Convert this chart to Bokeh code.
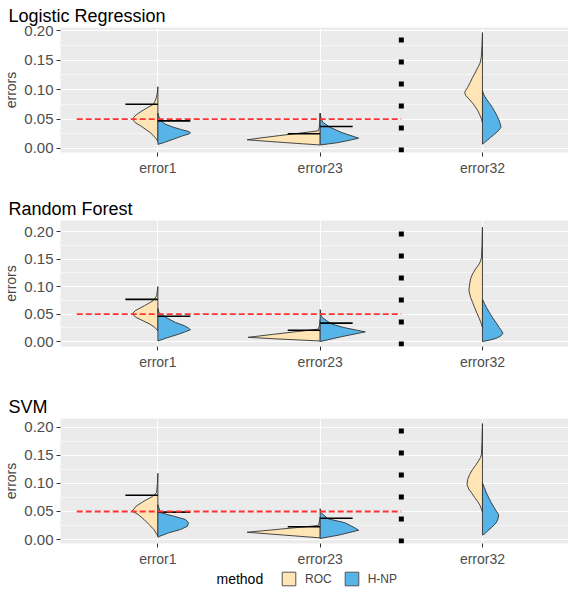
import numpy as np
from bokeh.plotting import figure
from bokeh.layouts import column
from bokeh.models import (FixedTicker, NumeralTickFormatter, Range1d,
                          Legend, LegendItem, Label)
from bokeh.embed import file_html
from bokeh.resources import INLINE

# ---------------- data ----------------
CATEGORIES = ["error1", "error23", "error32"]
METHODS = ["ROC", "H-NP"]
LEGEND_TITLE = "method"
Y_LABEL = "errors"
PANELS = ["Logistic Regression", "Random Forest", "SVM"]
Y_TICKS = [0.00, 0.05, 0.10, 0.15, 0.20]
ALPHA_LEVEL = 0.05          # target level (red dashed line)
SEPARATOR_AT = 2.5          # dotted separator between error23 and error32
Y_LIMITS = [(-0.0068, 0.2056), (-0.009, 0.220), (-0.007, 0.2155)]

# violin density profiles: (error value, density) from top to bottom
LR_E1_ROC = [(0.105, 0), (0.095, 0.5), (0.087, 1.5), (0.080, 3), (0.075, 4.5), (0.070, 10), (0.063, 17),
             (0.057, 22), (0.053, 24.5), (0.050, 25), (0.047, 24.5), (0.044, 23), (0.038, 17), (0.032, 12),
             (0.026, 7), (0.021, 4), (0.016, 1.5), (0.012, 0)]
LR_E1_HNP = [(0.060, 0), (0.054, 1), (0.048, 3), (0.044, 5), (0.041, 8), (0.036, 16), (0.032, 24),
             (0.029, 31), (0.027, 33), (0.025, 32), (0.0215, 25), (0.016, 16), (0.010, 6), (0.007, 0)]
LR_E23_ROC = [(0.060, 0), (0.045, 0.5), (0.035, 1), (0.030, 2), (0.026, 21), (0.022, 41), (0.018, 60),
              (0.0148, 74), (0.012, 52), (0.010, 35), (0.008, 18), (0.006, 0)]
LR_E23_HNP = [(0.060, 0), (0.050, 1), (0.044, 3), (0.036, 10), (0.027, 22), (0.0215, 32), (0.0175, 39),
              (0.013, 27), (0.0097, 17), (0.006, 0)]
LR_E32_ROC = [(0.197, 0), (0.175, 0.5), (0.155, 1.2), (0.145, 2.5), (0.1376, 4.7), (0.130, 7), (0.121, 10),
              (0.112, 12.5), (0.104, 15), (0.099, 17), (0.095, 18), (0.090, 17), (0.084, 13.5),
              (0.078, 10.5), (0.0725, 8), (0.065, 5), (0.058, 3), (0.050, 1), (0.044, 0)]
LR_E32_HNP = [(0.098, 0), (0.091, 1.5), (0.084, 4), (0.077, 7), (0.070, 10), (0.064, 12), (0.058, 14),
              (0.052, 15.7), (0.047, 17), (0.041, 18.2), (0.036, 18.7), (0.030, 16), (0.024, 12),
              (0.0187, 8), (0.014, 5), (0.010, 2), (0.0073, 0)]

RF_E1_ROC = [(0.100, 0), (0.090, 0.7), (0.083, 1.3), (0.074, 5), (0.065, 13.7), (0.056, 23), (0.050, 26),
             (0.0438, 22), (0.0377, 15), (0.0316, 8), (0.0255, 3), (0.0195, 0)]
RF_E1_HNP = [(0.060, 0), (0.0529, 1), (0.0438, 8), (0.0346, 18), (0.0286, 27), (0.024, 31.5),
             (0.0213, 33), (0.018, 28), (0.0133, 21), (0.0073, 10), (0.001, 0)]
RF_E23_ROC = [(0.040, 0), (0.030, 0.5), (0.0225, 2), (0.018, 24), (0.013, 48), (0.0077, 73), (0.005, 46),
              (0.003, 23), (0.001, 0)]
RF_E23_HNP = [(0.058, 0), (0.050, 0.7), (0.045, 1.3), (0.0377, 6.7), (0.0316, 12), (0.0255, 24),
              (0.0207, 37), (0.0176, 45.7), (0.009, 22), (0.0, 0)]
RF_E32_ROC = [(0.208, 0), (0.175, 0.5), (0.153, 1), (0.146, 2), (0.141, 3.3), (0.132, 7), (0.123, 10),
              (0.114, 12), (0.1045, 13), (0.095, 13.7), (0.088, 13.2), (0.080, 12), (0.071, 10),
              (0.062, 8), (0.051, 5.5), (0.041, 3), (0.033, 1.3), (0.0255, 0)]
RF_E32_HNP = [(0.077, 0), (0.069, 2), (0.062, 4), (0.053, 7), (0.044, 10), (0.035, 13.5), (0.0255, 17),
              (0.020, 19.2), (0.015, 20.7), (0.010, 18.5), (0.006, 14), (0.003, 8), (0.0, 0)]

SVM_E1_ROC = [(0.118, 0), (0.100, 0.5), (0.0833, 1.3), (0.0762, 6), (0.0685, 14), (0.0595, 22),
              (0.0506, 26), (0.0446, 20), (0.0357, 14), (0.0268, 9), (0.0179, 4), (0.0089, 1), (0.006, 0)]
SVM_E1_HNP = [(0.062, 0), (0.0565, 1), (0.0476, 3), (0.0417, 16), (0.0357, 28), (0.0298, 31),
              (0.0238, 30), (0.0179, 23), (0.012, 11), (0.006, 2), (0.004, 0)]
SVM_E23_ROC = [(0.040, 0), (0.030, 1), (0.025, 2), (0.021, 26), (0.017, 50), (0.013, 74), (0.008, 37),
               (0.003, 0)]
SVM_E23_HNP = [(0.055, 0), (0.0476, 1), (0.037, 8), (0.030, 25), (0.021, 35), (0.0166, 39), (0.008, 19),
               (0.002, 0)]
SVM_E32_ROC = [(0.2066, 0), (0.175, 0.5), (0.152, 1), (0.146, 2), (0.140, 4), (0.132, 7), (0.125, 10),
               (0.116, 13), (0.107, 15), (0.098, 15.7), (0.090, 14), (0.083, 11), (0.075, 8),
               (0.068, 5), (0.061, 2.5), (0.054, 1), (0.048, 0)]
SVM_E32_HNP = [(0.101, 0), (0.092, 2), (0.083, 4), (0.074, 6.5), (0.0655, 9), (0.058, 11.5),
               (0.0506, 14), (0.0446, 16.3), (0.037, 15.8), (0.030, 14), (0.022, 9.5), (0.015, 5),
               (0.010, 2), (0.008, 0)]

# quantile marks for error1, error23
LR_Q_ROC, LR_Q_HNP = [0.0753, 0.025], [0.047, 0.0375]
RF_Q_ROC, RF_Q_HNP = [0.0766, 0.0206], [0.046, 0.0334]
SVM_Q_ROC, SVM_Q_HNP = [0.079, 0.0227], [0.0488, 0.038]

PANEL_PROFILES = [
    [(LR_E1_ROC, LR_E1_HNP), (LR_E23_ROC, LR_E23_HNP), (LR_E32_ROC, LR_E32_HNP)],
    [(RF_E1_ROC, RF_E1_HNP), (RF_E23_ROC, RF_E23_HNP), (RF_E32_ROC, RF_E32_HNP)],
    [(SVM_E1_ROC, SVM_E1_HNP), (SVM_E23_ROC, SVM_E23_HNP), (SVM_E32_ROC, SVM_E32_HNP)],
]
PANEL_QUANT = [(LR_Q_ROC, LR_Q_HNP), (RF_Q_ROC, RF_Q_HNP), (SVM_Q_ROC, SVM_Q_HNP)]

# ---------------- style ----------------
ROC_COLOR = "#FFE4B5"
HNP_COLOR = "#56B4E9"
OUTLINE = "#333333"
FONT = "Liberation Sans"
VIOLIN_MAX_HALF = 0.45
QUANT_LEN = 0.2
LEFT_BORDER = 52
FRAME_W = 508
FRAME_H = [125, 126, 125]
TOP_BORDER = [27, 40, 44]
BOTTOM_BORDER = [28, 28, 26]

all_dens = [d for panel in PANEL_PROFILES for pair in panel for prof in pair for _, d in prof]
DENS_MAX = max(all_dens)

xpos = {c: i + 1 for i, c in enumerate(CATEGORIES)}


def half_poly(center, profile, side):
    vals = [v for v, _ in profile]
    hw = [VIOLIN_MAX_HALF * d / DENS_MAX for _, d in profile]
    xs = [center + side * w for w in hw]
    return xs, vals


def make_panel(k):
    ylim = Y_LIMITS[k]
    p = figure(frame_width=FRAME_W, frame_height=FRAME_H[k],
               x_range=Range1d(0.40, 3.53), y_range=Range1d(*ylim),
               output_backend="svg", toolbar_location=None,
               min_border_left=LEFT_BORDER, min_border_right=0,
               min_border_top=TOP_BORDER[k], min_border_bottom=BOTTOM_BORDER[k],
               title=PANELS[k])
    p.background_fill_color = "#EBEBEB"
    p.border_fill_color = "white"
    p.outline_line_color = None

    p.title.text_font = FONT
    p.title.text_font_size = "18px"
    p.title.text_font_style = "normal"
    p.title.text_color = "black"
    p.title.offset = -LEFT_BORDER
    p.title.standoff = 4

    yt = FixedTicker(ticks=Y_TICKS,
                     minor_ticks=[(a + b) / 2 for a, b in zip(Y_TICKS[:-1], Y_TICKS[1:])])
    p.yaxis.ticker = yt
    p.yaxis.formatter = NumeralTickFormatter(format="0.00")
    p.yaxis.axis_label = Y_LABEL
    p.xaxis.ticker = FixedTicker(ticks=[xpos[c] for c in CATEGORIES])
    p.xaxis.major_label_overrides = {xpos[c]: c for c in CATEGORIES}
    for ax in (p.xaxis[0], p.yaxis[0]):
        ax.axis_line_color = None
        ax.major_tick_line_color = "#333333"
        ax.major_tick_out = 4
        ax.major_tick_in = 0
        ax.minor_tick_line_color = None
        ax.major_label_text_font = FONT
        ax.major_label_text_color = "#4D4D4D"
        ax.major_label_standoff = 3
        ax.axis_label_text_font = FONT
        ax.axis_label_text_font_size = "14px"
        ax.axis_label_text_font_style = "normal"
        ax.axis_label_standoff = 2
    p.xaxis.major_label_text_font_size = "14px"
    p.yaxis.major_label_text_font_size = "15px"
    p.xgrid.grid_line_color = "white"
    p.xgrid.grid_line_width = 1.1
    p.ygrid.grid_line_color = "white"
    p.ygrid.grid_line_width = 1.1
    p.ygrid.minor_grid_line_color = "white"
    p.ygrid.minor_grid_line_width = 0.55

    xs_r, ys_r, xs_h, ys_h = [], [], [], []
    for c, (roc, hnp) in zip(CATEGORIES, PANEL_PROFILES[k]):
        x, y = half_poly(xpos[c], roc, -1)
        xs_r.append(x); ys_r.append(y)
        x, y = half_poly(xpos[c], hnp, +1)
        xs_h.append(x); ys_h.append(y)
    p.patches(xs_r, ys_r, fill_color=ROC_COLOR, line_color=OUTLINE, line_width=0.9)
    p.patches(xs_h, ys_h, fill_color=HNP_COLOR, line_color=OUTLINE, line_width=0.9)

    q_roc, q_hnp = PANEL_QUANT[k]
    qc = [xpos[c] for c in CATEGORIES[:2]]
    p.segment(x0=[c - QUANT_LEN for c in qc], x1=qc, y0=q_roc, y1=q_roc,
              line_color="black", line_width=1.6)
    p.segment(x0=qc, x1=[c + QUANT_LEN for c in qc], y0=q_hnp, y1=q_hnp,
              line_color="black", line_width=1.6)

    p.segment(x0=[xpos["error1"] - 0.5], x1=[SEPARATOR_AT], y0=[ALPHA_LEVEL], y1=[ALPHA_LEVEL],
              line_color="#FF3333", line_width=1.8, line_dash="6 3")
    p.line([SEPARATOR_AT, SEPARATOR_AT], [ylim[0], ylim[1]], line_color="black",
           line_width=5, line_dash="5 17", line_cap="butt")
    return p


panels = [make_panel(k) for k in range(3)]

# legend strip (its frame is aligned with the panel frames by the column layout)
LEG_H = 21
lg = figure(width=560, height=LEG_H, output_backend="svg", toolbar_location=None,
            x_axis_location=None, y_axis_location=None, min_border=0,
            x_range=Range1d(0, 1), y_range=Range1d(0, 1),
            outline_line_color=None)
lg.grid.visible = False
# swatch anchors kept outside the visible range; only the legend shows them
r1 = lg.quad(left=[2], right=[3], top=[3], bottom=[2], fill_color=ROC_COLOR, line_color="#555555")
r2 = lg.quad(left=[2], right=[3], top=[3], bottom=[2], fill_color=HNP_COLOR, line_color="#555555")
legend = Legend(items=[LegendItem(label=METHODS[0], renderers=[r1]),
                       LegendItem(label=METHODS[1], renderers=[r2])],
                orientation="horizontal",
                location=(220, 3), padding=0, margin=0, spacing=11,
                label_standoff=8, glyph_width=17, glyph_height=17,
                label_text_font=FONT, label_text_font_size="12px",
                background_fill_alpha=0, border_line_alpha=0)
lg.add_layout(legend, "center")
lg.add_layout(Label(x=156, y=11.5, x_units="screen", y_units="screen", text=LEGEND_TITLE,
                    text_font=FONT, text_font_size="14px", text_baseline="middle",
                    text_color="black"))

layout = column(*panels, lg, spacing=0)
open("out.html", "w").write(file_html(layout, INLINE))
